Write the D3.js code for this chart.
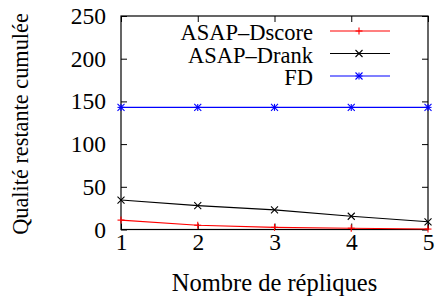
<!DOCTYPE html>
<html>
<head>
<meta charset="utf-8">
<script src="https://cdn.jsdelivr.net/npm/d3@7"></script>
<style>
  body { margin: 0; background: #fff; }
  svg text { font-family: "Liberation Serif", "Times New Roman", serif; fill: #000; }
</style>
</head>
<body>
<svg id="chart" width="436" height="300"></svg>
<script>
const replicas = [1, 2, 3, 4, 5];
const dscore = [11, 5, 2.5, 1.5, 0.5];
const drank = [34.5, 28, 23, 15.5, 9];
const fd = [143, 143, 143, 143, 143];
const yTicks = [0, 50, 100, 150, 200, 250];

const series = [
  { name: "ASAP\u2013Dscore", values: dscore, color: "#ff0000", marker: "plus" },
  { name: "ASAP\u2013Drank", values: drank, color: "#000000", marker: "cross" },
  { name: "FD", values: fd, color: "#0000ff", marker: "star" },
];

const svg = d3.select("#chart");
const margin = { left: 121, right: 8, top: 16, bottom: 70.5 };
const width = 436, height = 300;

const x = d3.scaleLinear().domain([1, 5]).range([margin.left, width - margin.right]);
const y = d3.scaleLinear().domain([0, 250]).range([height - margin.bottom, margin.top]);

const TICK = 6;
const FS = 23.5;

// frame
svg.append("rect")
  .attr("x", x(1)).attr("y", y(250))
  .attr("width", x(5) - x(1)).attr("height", y(0) - y(250))
  .attr("fill", "none").attr("stroke", "#000").attr("stroke-width", 1.2);

// axes: inward ticks, mirrored on top/right like gnuplot
const axBottom = svg.append("g").attr("transform", `translate(0,${y(0)})`)
  .call(d3.axisBottom(x).tickValues(replicas).tickFormat(d3.format("d")).tickSizeInner(-TICK).tickSizeOuter(0).tickPadding(4));
const axTop = svg.append("g").attr("transform", `translate(0,${y(250)})`)
  .call(d3.axisTop(x).tickValues(replicas).tickFormat("").tickSizeInner(-TICK).tickSizeOuter(0));
const axLeft = svg.append("g").attr("transform", `translate(${x(1)},0)`)
  .call(d3.axisLeft(y).tickValues(yTicks).tickSizeInner(-TICK).tickSizeOuter(0).tickPadding(15));
const axRight = svg.append("g").attr("transform", `translate(${x(5)},0)`)
  .call(d3.axisRight(y).tickValues(yTicks).tickFormat("").tickSizeInner(-TICK).tickSizeOuter(0));

[axBottom, axTop, axLeft, axRight].forEach((g) => {
  g.attr("font-family", null);
  g.select(".domain").remove();
  g.selectAll("line").attr("stroke", "#000").attr("stroke-width", 1);
  g.selectAll("text").attr("font-size", FS).attr("fill", "#000");
});

// axis titles
svg.append("text")
  .attr("x", x(3)).attr("y", 291)
  .attr("text-anchor", "middle").attr("font-size", 24.5)
  .text("Nombre de répliques");

svg.append("text")
  .attr("transform", `translate(28,124) rotate(-90)`)
  .attr("text-anchor", "middle").attr("font-size", 22.3)
  .text("Qualité restante cumulée");

function drawMarker(g, type, cx, cy, color) {
  const s = 3.5;
  const segs = [];
  if (type === "plus" || type === "star") {
    segs.push([cx - s, cy, cx + s, cy], [cx, cy - s, cx, cy + s]);
  }
  if (type === "cross" || type === "star") {
    segs.push([cx - s, cy - s, cx + s, cy + s], [cx - s, cy + s, cx + s, cy - s]);
  }
  segs.forEach((d) => {
    g.append("line")
      .attr("x1", d[0]).attr("y1", d[1]).attr("x2", d[2]).attr("y2", d[3])
      .attr("stroke", color).attr("stroke-width", 1.1);
  });
}

const line = d3.line().x((d, i) => x(replicas[i])).y((d) => y(d));

series.forEach((s) => {
  const g = svg.append("g");
  g.append("path").datum(s.values)
    .attr("d", line).attr("fill", "none")
    .attr("stroke", s.color).attr("stroke-width", 1.1);
  s.values.forEach((v, i) => drawMarker(g, s.marker, x(replicas[i]), y(v), s.color));
});

// legend (top right, text right-aligned before the sample)
const legend = svg.append("g");
series.forEach((s, i) => {
  const ly = 31 + i * 22.5;
  legend.append("text")
    .attr("x", 313).attr("y", ly + 9)
    .attr("text-anchor", "end").attr("font-size", 22.5)
    .text(s.name);
  legend.append("line")
    .attr("x1", 330).attr("x2", 390).attr("y1", ly).attr("y2", ly)
    .attr("stroke", s.color).attr("stroke-width", 1.1);
  drawMarker(legend, s.marker, 359, ly, s.color);
});
</script>
</body>
</html>
